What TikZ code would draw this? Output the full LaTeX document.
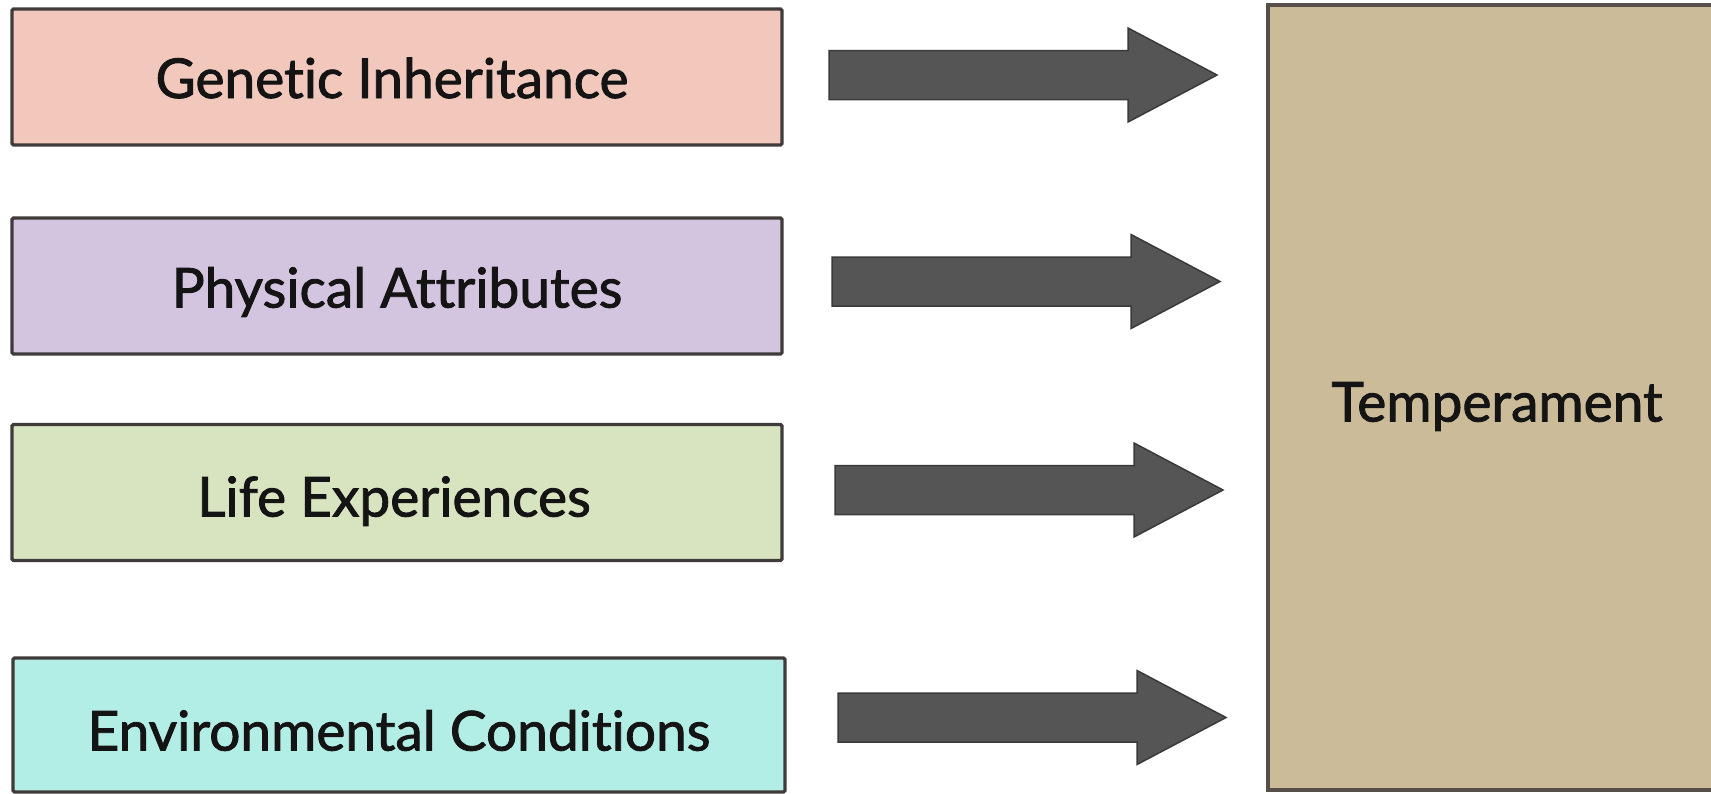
\documentclass[tikz,border=0pt]{standalone}
\usepackage{fontspec}
\setmainfont{Lato}[Ligatures=NoCommon, FakeBold=1.6]
\definecolor{pinkc}{HTML}{F2C8BC}
\definecolor{purpc}{HTML}{D3C4E0}
\definecolor{greenc}{HTML}{D8E3C0}
\definecolor{cyanc}{HTML}{B3EEE6}
\definecolor{tanc}{HTML}{CBBB98}
\definecolor{edgec}{HTML}{403B3B}
\definecolor{arrowc}{HTML}{555555}
\definecolor{arrowedge}{HTML}{3A3A3A}
\tikzset{
  label font/.style={font=\fontsize{55}{60}\selectfont, text=black!92,
    text height=39pt, text depth=0pt},
  factor/.style={draw=edgec, line width=3.2pt, rounded corners=1.5pt,
    minimum width=770pt, minimum height=136pt, inner sep=0pt, label font},
  result/.style={draw=edgec!85!tanc, line width=3.2pt,
    minimum width=454pt, minimum height=785pt, inner sep=0pt, label font},
  fatarrow/.style={fill=arrowc, draw=arrowedge, line width=1.5pt, line join=miter},
  pics/barrow/.style={code={
    \draw[fatarrow] (0,-24.5) -- (299,-24.5) -- (299,-47) -- (388,0)
      -- (299,47) -- (299,24.5) -- (0,24.5) -- cycle;
  }}
}
\begin{document}
\begin{tikzpicture}[x=1pt,y=-1pt]
\useasboundingbox (0,0) rectangle (1711,793);
\fill[white] (0,0) rectangle (1711,793);
\clip (0,0) rectangle (1711,793);
\node[factor, fill=pinkc] (gen) at (397,77) {};
\node[factor, fill=purpc] (phys) at (397,286) {};
\node[factor, fill=greenc] (life) at (397,492.5) {};
\node[factor, fill=cyanc, minimum width=772pt, minimum height=134pt] (env) at (399,725) {};
\node[result, fill=tanc] (temp) at (1495,397.5) {};
\node[label font] (tgen) at (392,78.5) {Genetic Inheritance};
\node[label font] (tphys) at (397,288) {Physical Attributes};
\node[label font] (tlife) at (394,497) {Life Experiences};
\node[label font] (tenv) at (399,731) {Environmental Conditions};
\node[label font] (ttemp) at (1497,402) {Temperament};
\pic (a1) at (829,75) {barrow};
\pic (a2) at (832,281.5) {barrow};
\pic (a3) at (835,490) {barrow};
\pic (a4) at (838,717.5) {barrow};
\end{tikzpicture}
\end{document}
